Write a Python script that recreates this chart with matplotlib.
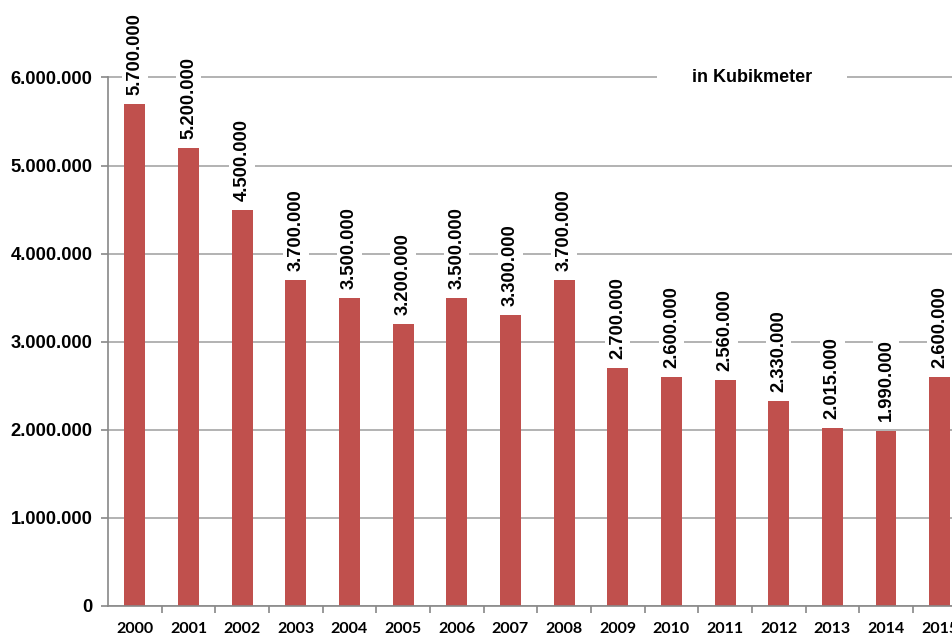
import matplotlib.pyplot as plt
import numpy as np

jahre = ["2000", "2001", "2002", "2003", "2004", "2005", "2006", "2007",
         "2008", "2009", "2010", "2011", "2012", "2013", "2014", "2015"]
werte = [5700000, 5200000, 4500000, 3700000, 3500000, 3200000, 3500000, 3300000,
         3700000, 2700000, 2600000, 2560000, 2330000, 2015000, 1990000, 2600000]
y_ticks = [0, 1000000, 2000000, 3000000, 4000000, 5000000, 6000000]


def punkt(v):
    return "{:,}".format(int(v)).replace(",", ".")


fig = plt.figure(figsize=(9.52, 6.37), dpi=100)
ax = fig.add_axes([108 / 952, (637 - 605.7) / 637, 1 - 108 / 952, 605.7 / 637])

x = np.arange(len(jahre))
ax.bar(x, werte, width=0.39, color="#C0504D", zorder=2)

ax.set_yticks(y_ticks)
ax.set_yticklabels([punkt(v) for v in y_ticks], fontsize=13.2,
                   fontweight="bold", family="Liberation Sans")
ax.yaxis.grid(True, color="#A6A6A6", linewidth=1.2, zorder=0)
ax.tick_params(axis="y", length=5, width=1.2, color="#888888", pad=6)

ax.set_xticks(x)
ax.set_xticklabels(jahre, fontsize=11.5, fontweight="bold", family="Lato")
ax.set_xticks(np.arange(len(jahre)) + 0.5, minor=True)
ax.tick_params(axis="x", which="major", length=0, pad=12)
ax.tick_params(axis="x", which="minor", length=5, width=1.2, color="#888888")

# Grenzen erst nach den Ticks setzen
ax.set_xlim(-0.5, 15.23)
ax.set_ylim(0, 6880000)

for s in ["top", "right"]:
    ax.spines[s].set_visible(False)
for s in ["left", "bottom"]:
    ax.spines[s].set_color("#888888")
    ax.spines[s].set_linewidth(1.2)
ax.spines["left"].set_bounds(0, 6000000)

for xi, v in zip(x, werte):
    ax.annotate(punkt(v), (xi, v), xytext=(0, 6.5), textcoords="offset points",
                rotation=90, ha="center", va="bottom", fontsize=13.2,
                fontweight="bold", family="Liberation Sans", zorder=3,
                bbox=dict(facecolor="white", edgecolor="none", pad=3))

px = 53.66  # Pixel pro Kategorie
ax.add_patch(plt.Rectangle(((658 - 135.5) / px, 5900000), (848 - 658) / px, 200000,
                           facecolor="white", edgecolor="none", zorder=2.5))
ax.text((753 - 135.5) / px, 6000000, "in Kubikmeter", ha="center", va="center",
        fontsize=13, fontweight="bold", family="Liberation Sans", zorder=3)

fig.savefig("out.png", dpi=100)
